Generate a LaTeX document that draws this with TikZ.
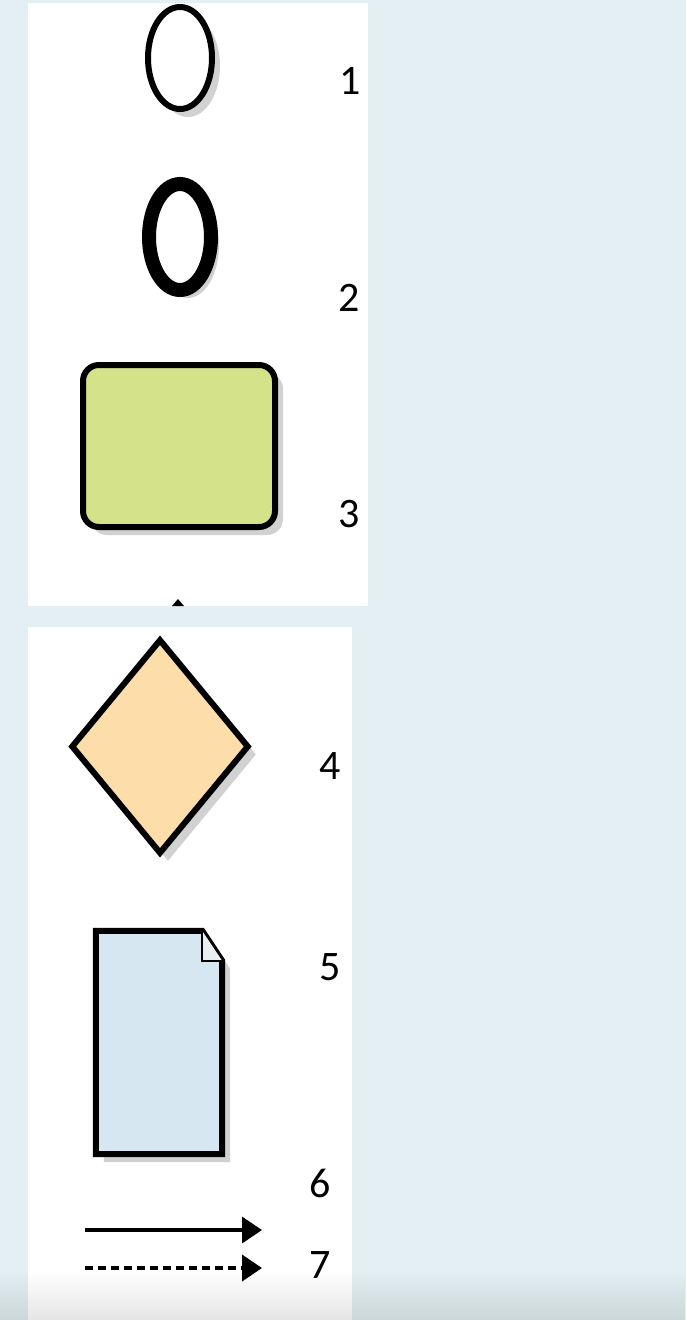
\documentclass[tikz,border=0pt]{standalone}
\usepackage{fontspec}
\setmainfont{Carlito}
\usepackage{xcolor}
\usetikzlibrary{shapes.geometric,shadows,arrows.meta,fadings}

\definecolor{backclr}{HTML}{E3EFF2}
\definecolor{taskclr}{HTML}{D4E38A}
\definecolor{gateclr}{HTML}{FDDEAA}
\definecolor{dataclr}{HTML}{D6E7F2}
\definecolor{foldclr}{HTML}{E8EEF2}

\begin{document}
\begin{tikzpicture}[x=1pt,y=-1pt,
		shade/.style={drop shadow={shadow xshift=8pt,shadow yshift=-8pt,fill=black!18,opacity=1}},
		num/.style={font=\fontsize{42}{46}\selectfont,inner sep=0pt},
		flow/.style={line width=3.5pt,-{Triangle[length=20pt,width=26pt]}}]
	\useasboundingbox (0,0) rectangle (686,1320);
	\fill[backclr] (0,0) rectangle (686,1320);
	\fill[white] (28,3) rectangle (368,606);
	\fill[white] (28,627) rectangle (352,1320);
	\fill[black] (172,606) -- (178,599) -- (184,606) -- cycle;

	\node (start) [ellipse,draw,line width=6pt,fill=white,shade,minimum width=64pt,minimum height=102pt,inner sep=0pt] at (180,58) {};
	\node (end) [ellipse,draw,line width=14pt,fill=white,shade,minimum width=62pt,minimum height=106pt,inner sep=0pt] at (180,237) {};
	\node (task) [rectangle,rounded corners=16pt,draw,line width=6pt,fill=taskclr,shade,minimum width=192pt,minimum height=162pt,inner sep=0pt] at (179,446) {};
	\node (gate) [diamond,draw,line width=6pt,fill=gateclr,shade,minimum width=178pt,minimum height=215pt,inner sep=0pt] at (160,746.5) {};
	\node (data) [rectangle,minimum width=126pt,minimum height=223pt,inner sep=0pt] at (159,1042.5) {};
	\draw[line width=6pt,fill=dataclr,shade] (data.north west) -- ([xshift=-20pt]data.north east) -- ([yshift=-30pt]data.north east) -- (data.south east) -- (data.south west) -- cycle;
	\draw[line width=2pt,fill=foldclr] ([xshift=-20pt]data.north east) -- ([xshift=-20pt,yshift=-30pt]data.north east) -- ([yshift=-30pt]data.north east);

	\coordinate (s6) at (85,1230);
	\coordinate (e6) at (262,1230);
	\coordinate (s7) at (85,1268);
	\coordinate (e7) at (262,1268);
	\draw[flow] (s6) -- (e6);
	\draw[flow,line width=4pt,dash pattern=on 8pt off 5pt] (s7) -- (e7);

	\node (n1) [num] at (350,81) {1};
	\node (n2) [num] at (349,298) {2};
	\node (n3) [num] at (349,514) {3};
	\node (n4) [num] at (330,766) {4};
	\node (n5) [num] at (330,967) {5};
	\node (n6) [num] at (320,1183) {6};
	\node (n7) [num] at (320,1265) {7};

	\fill[black,opacity=0.1,path fading=north] (0,1270) rectangle (686,1320);
\end{tikzpicture}
\end{document}
